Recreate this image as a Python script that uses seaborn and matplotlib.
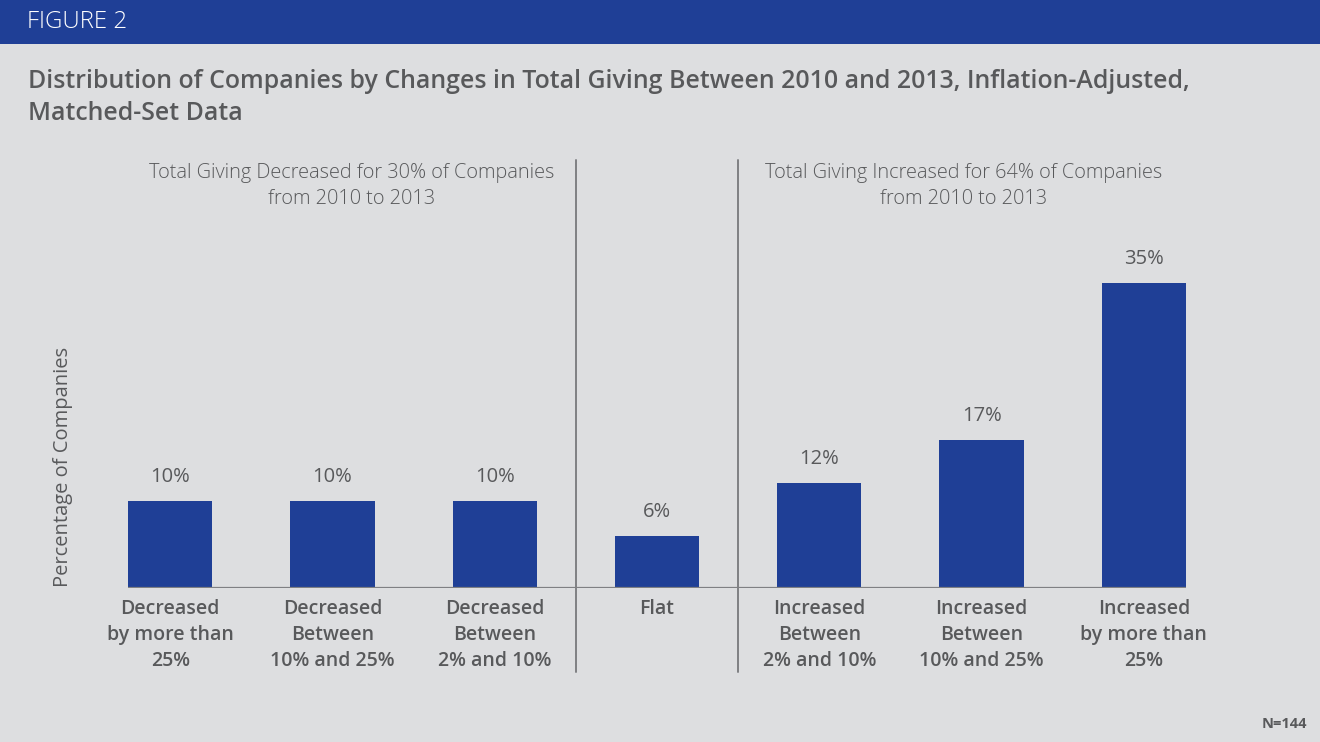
import matplotlib
matplotlib.use("Agg")
import matplotlib.pyplot as plt
import matplotlib.transforms as mtransforms
import seaborn as sns
import pandas as pd

# Chart data
categories = [
    "Decreased\nby more than\n25%",
    "Decreased\nBetween\n10% and 25%",
    "Decreased\nBetween\n2% and 10%",
    "Flat",
    "Increased\nBetween\n2% and 10%",
    "Increased\nBetween\n10% and 25%",
    "Increased\nby more than\n25%",
]
share_pct = [10, 10, 10, 6, 12, 17, 35]
value_labels = ["10%", "10%", "10%", "6%", "12%", "17%", "35%"]
group_notes = [
    "Total Giving Decreased for 30% of Companies\nfrom 2010 to 2013",
    "Total Giving Increased for 64% of Companies\nfrom 2010 to 2013",
]
title_lines = [
    "Distribution of Companies by Changes in Total Giving Between 2010 and 2013, Inflation-Adjusted,",
    "Matched-Set Data",
]

BLUE = "#1F3F96"
BG = "#DDDEE0"
TEXT = "#58595B"
RULE = "#7F8083"
FONT = ["Open Sans", "DejaVu Sans"]

W, H = 1320, 742
sns.set_theme(style="white")
plt.rcParams["font.family"] = FONT

fig = plt.figure(figsize=(W / 100, H / 100), dpi=100, facecolor=BG)


def fx(px):
    return px / W


def fy(py):
    return 1 - py / H


# Header band
fig.patches.append(plt.Rectangle((0, fy(44)), 1, 44 / H, transform=fig.transFigure,
                                 facecolor=BLUE, edgecolor="none", zorder=0))
fig.text(fx(27), fy(22), "FIGURE 2", color="white", fontsize=17.3, fontweight="light",
         va="center", ha="left")

# Title, one line at a time
for line, ypx in zip(title_lines, (81, 113)):
    fig.text(fx(28), fy(ypx), line, color=TEXT, fontsize=17.9, fontweight="semibold",
             va="center", ha="left")

# Plot area
ax_left, ax_right, ax_top, ax_bottom = 89, 1225, 160, 588
ax = fig.add_axes([fx(ax_left), fy(ax_bottom), fx(ax_right - ax_left), (ax_bottom - ax_top) / H])
ax.set_facecolor("none")

df = pd.DataFrame({"category": categories, "share": share_pct})
bar_w = 0.52
sns.barplot(data=df, x="category", y="share", color=BLUE, width=bar_w, saturation=1,
            linewidth=0, edgecolor="none", ax=ax, zorder=2)

ax.set_xlim(-0.5, len(categories) - 0.5)
ax.set_ylim(0, 49.1)
for s in ax.spines.values():
    s.set_visible(False)
ax.set_xticks([])
ax.set_yticks([])
ax.set_xlabel("")
ax.set_ylabel("")

# Baseline spanning the bars
ax.hlines(0, -bar_w / 2, len(categories) - 1 + bar_w / 2, color=RULE, lw=1.6, zorder=3)

# Value labels above bars
for i, (v, lab) in enumerate(zip(share_pct, value_labels)):
    ax.annotate(lab, (i, v), xytext=(0, 24), textcoords="offset pixels", ha="center",
                va="center", fontsize=14.5, fontweight="medium", color=TEXT)

# Category labels below the baseline, 26 px between lines
for i, c in enumerate(categories):
    for k, line in enumerate(c.split("\n")):
        ax.annotate(line, (i, 0), xytext=(0, -(21 + 26 * k)), textcoords="offset pixels",
                    ha="center", va="center", fontsize=14, fontweight="semibold", color=TEXT)

# Group separators
xtrans = mtransforms.blended_transform_factory(ax.transData, ax.transAxes)
sep_bottom = -(672 - ax_bottom) / (ax_bottom - ax_top)
for xs in (2.5, 3.5):
    ax.plot([xs, xs], [sep_bottom, 1.0], transform=xtrans, color=RULE, lw=1.4,
            clip_on=False, zorder=1)

# Group notes
for note, xc in zip(group_notes, (352, 964)):
    for k, line in enumerate(note.split("\n")):
        fig.text(fx(xc), fy(173 + 26 * k), line, ha="center", va="center", fontsize=14.3,
                 fontweight="light", color=TEXT)

# Axis title
fig.text(fx(63), fy(467), "Percentage of Companies", rotation=90, ha="center", va="center",
         fontsize=14.5, color=TEXT)

# Sample size
fig.text(fx(1307), fy(724), "N=144", ha="right", va="center", fontsize=10.5,
         fontweight="bold", color=TEXT)

fig.savefig("out.png", dpi=100, facecolor=BG)
